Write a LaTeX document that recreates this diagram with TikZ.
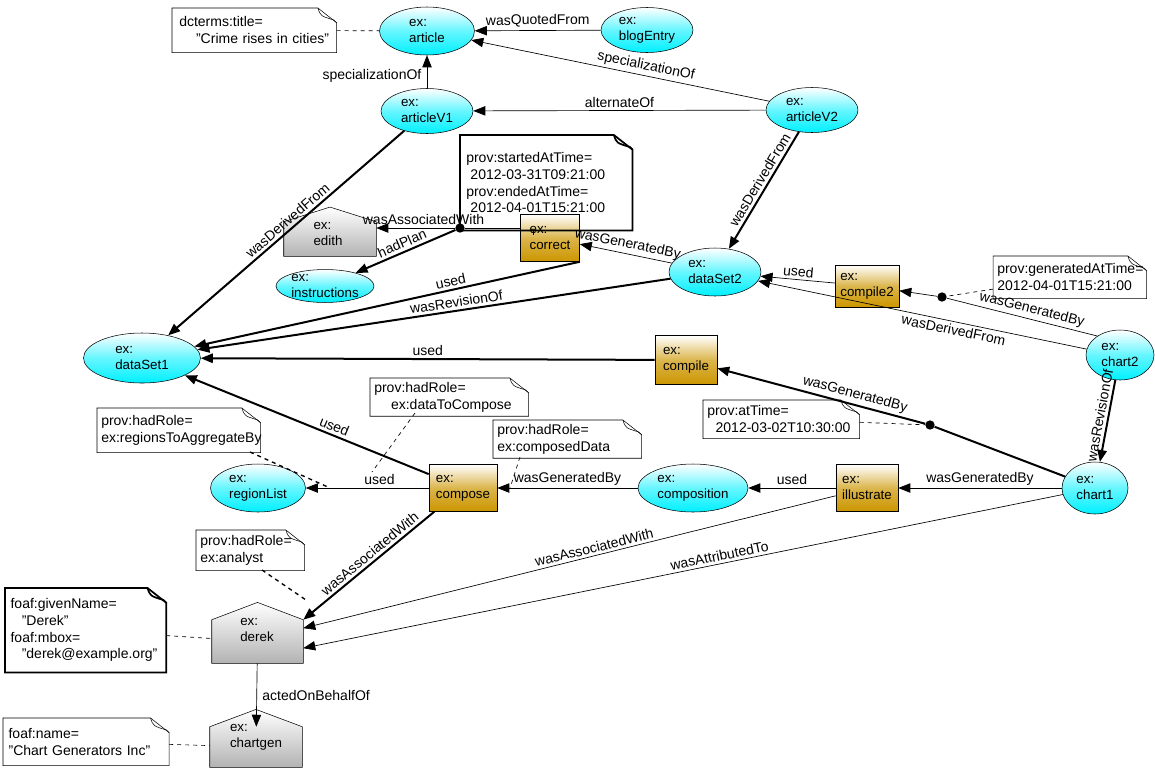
\documentclass[tikz,border=0pt]{standalone}
\usepackage{fontspec}
\setmainfont{Liberation Sans}
\usetikzlibrary{shapes.geometric,arrows.meta}
\def\u{0.75pt}
\definecolor{gold}{RGB}{204,150,0}
\definecolor{cy}{RGB}{0,240,255}
\newcommand\notebox[2][]{%
 \draw[#1] (#2.north west) -- ([xshift=-14pt]#2.north east) -- ([yshift=-11pt]#2.north east) -- (#2.south east) -- (#2.south west) -- cycle;
 \draw[#1] ([xshift=-14pt]#2.north east) .. controls ([xshift=-12pt,yshift=-6pt]#2.north east) .. ([xshift=-2pt,yshift=-9pt]#2.north east) -- ([yshift=-11pt]#2.north east);}
\newcommand\house[2]{%
 \draw[top color=white,bottom color=black!30] (#1.south west) -- (#1.north west) -- ([yshift=#2]#1.north) -- (#1.north east) -- (#1.south east) -- cycle;}
\begin{document}
\begin{tikzpicture}[x=0.75pt,y=-0.75pt,font=\fontsize{10.5}{12.5}\selectfont,
 ent/.style={ellipse,draw,top color=white,bottom color=cy,middle color=cy!60,shading angle=0,align=left,inner sep=0pt,font=\fontsize{10}{12}\selectfont},
 act/.style={rectangle,draw,top color=white,bottom color=gold,middle color=gold!70,align=left,inner sep=0pt,font=\fontsize{10}{12}\selectfont},
 agt/.style={rectangle,align=left,inner sep=0pt,font=\fontsize{10}{12}\selectfont},
 nt/.style={rectangle,align=left,inner sep=0pt,anchor=north west},
 dot/.style={circle,fill=black,inner sep=0pt,minimum size=7pt},
 e/.style={-{Triangle[width=7pt,length=9pt]},line width=0.5pt},
 te/.style={-{Triangle[width=7pt,length=9pt]},line width=1.5pt},
 dsh/.style={dashed,line width=0.5pt},
 lb/.style={midway,above,sloped,inner sep=2pt},
 lbb/.style={midway,below,sloped,inner sep=2pt}]
\useasboundingbox (0,0) rectangle (1155,768);
% entities
\node[ent,minimum width=95*\u,minimum height=48*\u] (article) at (427,31) {ex:\\article};
\node[ent,minimum width=92*\u,minimum height=45*\u] (blog) at (647,30) {ex:\\blogEntry};
\node[ent,minimum width=92*\u,minimum height=45*\u] (v1) at (427,111) {ex:\\articleV1};
\node[ent,minimum width=92*\u,minimum height=45*\u] (v2) at (812,110) {ex:\\articleV2};
\node[ent,minimum width=92*\u,minimum height=48*\u] (ds2) at (715,272) {ex:\\dataSet2};
\node[ent,minimum width=117*\u,minimum height=50*\u] (ds1) at (142,358) {ex:\\dataSet1};
\node[ent,minimum width=68*\u,minimum height=50*\u] (chart2) at (1120,355) {ex:\\chart2};
\node[ent,minimum width=66*\u,minimum height=52*\u] (chart1) at (1095,488) {ex:\\chart1};
\node[ent,minimum width=95*\u,minimum height=48*\u] (region) at (258,488) {ex:\\regionList};
\node[ent,minimum width=110*\u,minimum height=48*\u] (composition) at (693,488) {ex:\\composition};
\node[ent,minimum width=98*\u,minimum height=32*\u] (instr) at (325,286) {ex:\\instructions};
% activities
\node[act,minimum width=59*\u,minimum height=47*\u] (correct) at (550,238) {ex:\\correct};
\node[act,minimum width=64*\u,minimum height=42*\u] (compile2) at (867,286) {ex:\\compile2};
\node[act,minimum width=62*\u,minimum height=49*\u] (compile) at (686,360) {ex:\\compile};
\node[act,minimum width=68*\u,minimum height=47*\u] (compose) at (463,488) {ex:\\compose};
\node[act,minimum width=62*\u,minimum height=47*\u] (illustrate) at (867,488) {ex:\\illustrate};
% agents
\node[agt,minimum width=92*\u,minimum height=34*\u] (edith) at (330,239) {};
\house{edith}{11pt}
\node[agt] at (328,234) {ex:\\edith};
\node[agt,minimum width=91*\u,minimum height=43*\u] (derek) at (257.5,641.5) {};
\house{derek}{13pt}
\node[agt] at (257,630) {ex:\\derek};
\node[agt,minimum width=92*\u,minimum height=40*\u] (chartgen) at (256,747) {};
\house{chartgen}{13pt}
\node[agt] at (256,737) {ex:\\chartgen};
% notes
\node[nt,minimum width=164*\u,minimum height=44*\u,text width=150*\u,inner sep=4pt] (n1) at (172,8) {dcterms:title=\\\hspace{1.2em}"Crime rises in cities"};
\notebox{n1}
\node[nt,minimum width=172*\u,minimum height=95*\u,text width=160*\u,inner sep=4pt] (n2) at (460,135) {prov:startedAtTime=\\\hspace{0.3em}2012-03-31T09:21:00\\prov:endedAtTime=\\\hspace{0.3em}2012-04-01T15:21:00};
\notebox[line width=1.3pt]{n2}
\node[nt,minimum width=152*\u,minimum height=42*\u,text width=145*\u,inner sep=3pt] (n3) at (993,256) {prov:generatedAtTime=\\2012-04-01T15:21:00};
\notebox{n3}
\node[nt,minimum width=140*\u,minimum height=35*\u,text width=150*\u,inner sep=3pt] (n4) at (370,378) {prov:hadRole=\\\hspace*{1.2em}ex:dataToCompose};
\notebox{n4}
\node[nt,minimum width=163*\u,minimum height=44*\u,text width=155*\u,inner sep=3pt] (n5) at (97,408) {prov:hadRole=\\ex:regionsToAggregateBy};
\notebox{n5}
\node[nt,minimum width=147*\u,minimum height=37*\u,text width=140*\u,inner sep=3pt] (n6) at (493,420) {prov:hadRole=\\ex:composedData};
\notebox{n6}
\node[nt,minimum width=155*\u,minimum height=38*\u,text width=148*\u,inner sep=3pt] (n7) at (703,400) {prov:atTime=\\\hspace{0.6em}2012-03-02T10:30:00};
\notebox{n7}
\node[nt,minimum width=107*\u,minimum height=40*\u,text width=100*\u,inner sep=3pt] (n8) at (196,530) {prov:hadRole=\\ex:analyst};
\notebox{n8}
\node[nt,minimum width=160*\u,minimum height=84*\u,text width=150*\u,inner sep=4pt] (n9) at (5,588) {foaf:givenName=\\\hspace{0.8em}"Derek"\\foaf:mbox=\\\hspace{0.8em}"derek@example.org"};
\notebox[line width=1.3pt]{n9}
\node[nt,minimum width=162*\u,minimum height=47*\u,text width=155*\u,inner sep=4pt] (n10) at (3,718) {foaf:name=\\"Chart Generators Inc"};
\notebox{n10}
% dots
\node[dot] (d1) at (460,228) {};
\node[dot] (d2) at (942,297) {};
\node[dot] (d3) at (930,425) {};
% edges
\draw[e] (blog) -- node[lb]{wasQuotedFrom} (article);
\draw[e] (v1) -- node[midway,left,inner sep=4pt,yshift=-3pt]{specializationOf} (article);
\draw[e] (v2) -- node[lb,pos=0.42]{specializationOf} (article);
\draw[e] (v2) -- node[lb]{alternateOf} (v1);
\draw[te] (v1) -- node[lb,pos=0.47]{wasDerivedFrom} (ds1);
\draw[te] (v2) -- node[lb,pos=0.45]{wasDerivedFrom} (ds2);
\draw[line width=0.5pt] ([yshift=7.5pt]correct.west) -- (d1);
\draw[e] (d1) -- node[lb,pos=0.4]{wasAssociatedWith} ([yshift=8.25pt]edith.east);
\draw[te] (d1) -- node[lb]{hadPlan} (instr);
\draw[e] (ds2) -- node[lb,pos=0.5]{wasGeneratedBy} (correct);
\draw[te] (correct.south east) -- node[lb,pos=0.33]{used} (ds1);
\draw[te] (ds2) -- node[lb,pos=0.45]{wasRevisionOf} (ds1);
\draw[e] (compile2) -- node[lb]{used} (ds2);
\draw[line width=0.5pt] (chart2.140) -- node[lb,pos=0.45]{wasGeneratedBy} (d2);
\draw[e] (d2) -- (compile2);
\draw[e] (chart2.170) -- node[lbb,pos=0.4]{wasDerivedFrom} (ds2);
\draw[te] (compile) -- node[lb]{used} (ds1);
\draw[line width=1.5pt] (chart1) -- (d3);
\draw[te] (d3) -- node[lb,pos=0.35]{wasGeneratedBy} (compile);
\draw[te] (chart2) -- node[lb,pos=0.45]{wasRevisionOf} (chart1);
\draw[te] (compose) -- node[lb,pos=0.4]{used} (ds1);
\draw[e] (compose) -- node[lb,pos=0.4]{used} (region);
\draw[e] (composition) -- node[lb]{wasGeneratedBy} (compose);
\draw[e] (illustrate) -- node[lb]{used} (composition);
\draw[e] (chart1) -- node[lb]{wasGeneratedBy} (illustrate);
\draw[te] (compose) -- node[lb,pos=0.45]{wasAssociatedWith} (derek.north east);
\draw[e] (illustrate) -- node[lb,pos=0.45]{wasAssociatedWith} ([yshift=10pt]derek.east);
\draw[e] (chart1) -- node[lb,pos=0.45]{wasAttributedTo} ([yshift=-5pt]derek.east);
\draw[e] (derek) -- node[midway,right,inner sep=4pt]{actedOnBehalfOf} (chartgen);
% dashed note links
\draw[dsh] (n1) -- (article);
\draw[dsh] (n2.south) ++(-10pt,0) -- +(0,-4pt);
\draw[dsh] (n3) -- (d2);
\draw[dsh] (n7) -- (d3);
\draw[dsh] (415,413) -- (372,472);
\draw[line width=1pt,dashed] (250,452) -- (330,488);
\draw[dsh] (520,457) -- (510,488);
\draw[line width=1pt,dashed] (262,570) -- (306,600);
\draw[dsh] (n9) -- (derek);
\draw[dsh] (n10) -- (chartgen);
\end{tikzpicture}
\end{document}
